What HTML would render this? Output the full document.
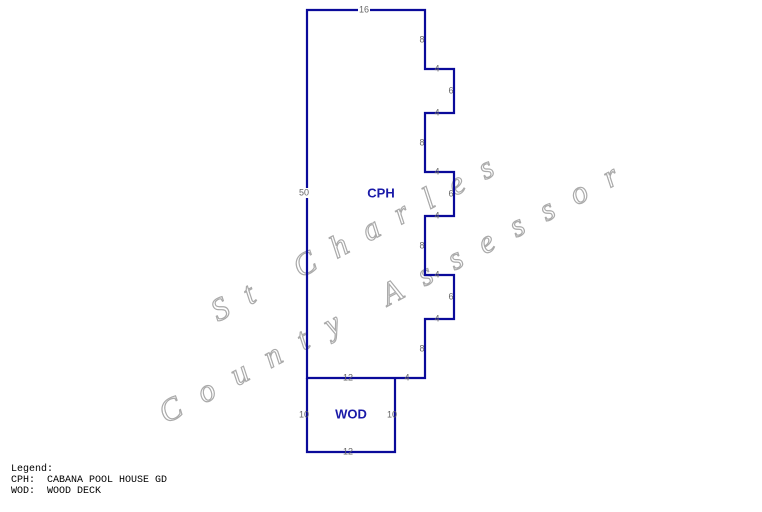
<!DOCTYPE html>
<html><head><meta charset="utf-8"><style>
body{margin:0;background:#fff;width:762px;height:512px;overflow:hidden;position:relative}
svg{position:absolute;left:0;top:0}
.l{font-family:"Liberation Sans",sans-serif;font-size:9px;fill:#666;text-anchor:middle;dominant-baseline:middle}
.n{font-family:"Liberation Sans",sans-serif;font-size:13px;font-weight:bold;fill:#1a1aa8;text-anchor:middle;dominant-baseline:middle}
.w{font-family:"Liberation Serif",serif;font-style:italic;font-size:32px;fill:#fff;stroke:#aaa;stroke-width:1.2}
pre{position:absolute;left:11px;top:464px;margin:0;font-family:"Liberation Mono",monospace;font-size:10px;line-height:11px;color:#000}
</style></head><body>
<svg width="762" height="512">
<text class="w" transform="translate(218,322) rotate(-28)" textLength="315" lengthAdjust="spacing">St Charles</text>
<text class="w" transform="translate(166,424) rotate(-28)" textLength="515" lengthAdjust="spacing">County Assessor</text>
<g fill="none" stroke="#0a0a9a" stroke-width="2.2">
<path d="M307,10 H425 V69 H454 V113 H425 V172 H454 V216 H425 V275 H454 V319 H425 V378 H307 Z"/>
<path d="M307,378 V452 H395 V378"/>
</g>
<g>
<rect x="358" y="5" width="12" height="10" fill="#fff"/><text class="l" x="364" y="10">16</text>
<rect x="297" y="188" width="14" height="10" fill="#fff"/><text class="l" x="304" y="193">50</text>
<text class="l" x="422" y="40">8</text>
<text class="l" x="437" y="69">4</text>
<text class="l" x="451" y="91">6</text>
<text class="l" x="437" y="113">4</text>
<text class="l" x="422" y="143">8</text>
<text class="l" x="437" y="172">4</text>
<text class="l" x="451" y="194">6</text>
<text class="l" x="437" y="216">4</text>
<text class="l" x="422" y="246">8</text>
<text class="l" x="437" y="275">4</text>
<text class="l" x="451" y="297">6</text>
<text class="l" x="437" y="319">4</text>
<text class="l" x="422" y="349">8</text>
<text class="l" x="407" y="378">4</text>
<text class="l" x="348" y="378">12</text>
<text class="l" x="304" y="415">10</text>
<text class="l" x="392" y="415">10</text>
<text class="l" x="348" y="452">12</text>
<text class="n" x="381" y="194">CPH</text>
<text class="n" x="351" y="415">WOD</text>
</g>
</svg>
<pre>Legend:
CPH:  CABANA POOL HOUSE GD
WOD:  WOOD DECK</pre>
</body></html>
